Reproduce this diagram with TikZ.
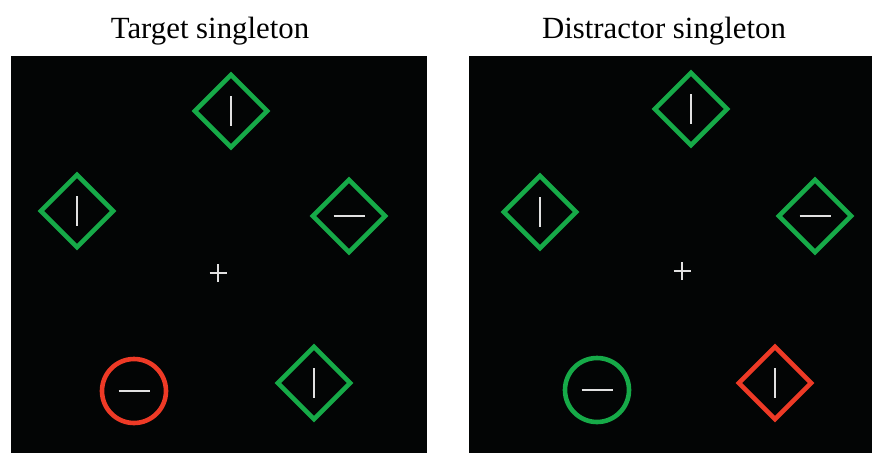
\documentclass[tikz,border=0pt]{standalone}
\usepackage{fontspec}
\setmainfont{Liberation Serif}
\usetikzlibrary{shapes.geometric}
\definecolor{stimgreen}{RGB}{22,170,72}
\definecolor{stimred}{RGB}{238,58,38}
\definecolor{panelbg}{RGB}{3,5,5}
\definecolor{barcol}{RGB}{225,225,225}
\tikzset{
  panel/.style={fill=panelbg, draw=none},
  gdiam/.style={diamond, draw=stimgreen, line width=4.6pt, minimum width=74pt, minimum height=74pt, inner sep=0pt},
  rdiam/.style={gdiam, draw=stimred},
  gcirc/.style={circle, draw=stimgreen, line width=4.6pt, minimum size=64pt, inner sep=0pt},
  rcirc/.style={gcirc, draw=stimred},
  bar/.style={draw=barcol, line width=2.8pt},
  fix/.style={draw=barcol, line width=1.4pt},
  title/.style={font=\fontsize{30.8pt}{34pt}\selectfont, anchor=base, inner sep=0pt}
}
\newcommand{\myvbar}[1]{\draw[bar] ([yshift=15pt]#1.center) -- ([yshift=-15pt]#1.center);}
\newcommand{\myhbar}[1]{\draw[bar] ([xshift=-15.5pt]#1.center) -- ([xshift=15.5pt]#1.center);}
\newcommand{\fixcross}[1]{\draw[fix] ([xshift=-8.5pt]#1) -- ([xshift=8.5pt]#1); \draw[fix] ([yshift=-9pt]#1) -- ([yshift=9pt]#1);}
\begin{document}
\begin{tikzpicture}[x=1pt,y=-1pt]
\useasboundingbox (0,0) rectangle (872,453);
\fill[white] (0,0) rectangle (872,453);
% panels
\path[panel] (11,56) rectangle (427,453);
\path[panel] (469,56) rectangle (872,453);
% titles
\node[title] (t1) at (210,38) {Target singleton};
\node[title] (t2) at (664,38) {Distractor singleton};
% left panel
\node[gdiam] (l1) at (231,111) {};
\node[gdiam] (l2) at (77,211) {};
\node[gdiam] (l3) at (349,216) {};
\node[gdiam] (l4) at (314,383) {};
\node[rcirc] (l5) at (134,391) {};
\coordinate (lc) at (218,273);
\myvbar{l1} \myvbar{l2} \myhbar{l3} \myvbar{l4} \myhbar{l5}
\fixcross{lc}
% right panel
\node[gdiam] (r1) at (691,109) {};
\node[gdiam] (r2) at (540,212) {};
\node[gdiam] (r3) at (815,216) {};
\node[rdiam] (r4) at (775,383) {};
\node[gcirc] (r5) at (597,390) {};
\coordinate (rc) at (682,271);
\myvbar{r1} \myvbar{r2} \myhbar{r3} \myvbar{r4} \myhbar{r5}
\fixcross{rc}
\end{tikzpicture}
\end{document}
